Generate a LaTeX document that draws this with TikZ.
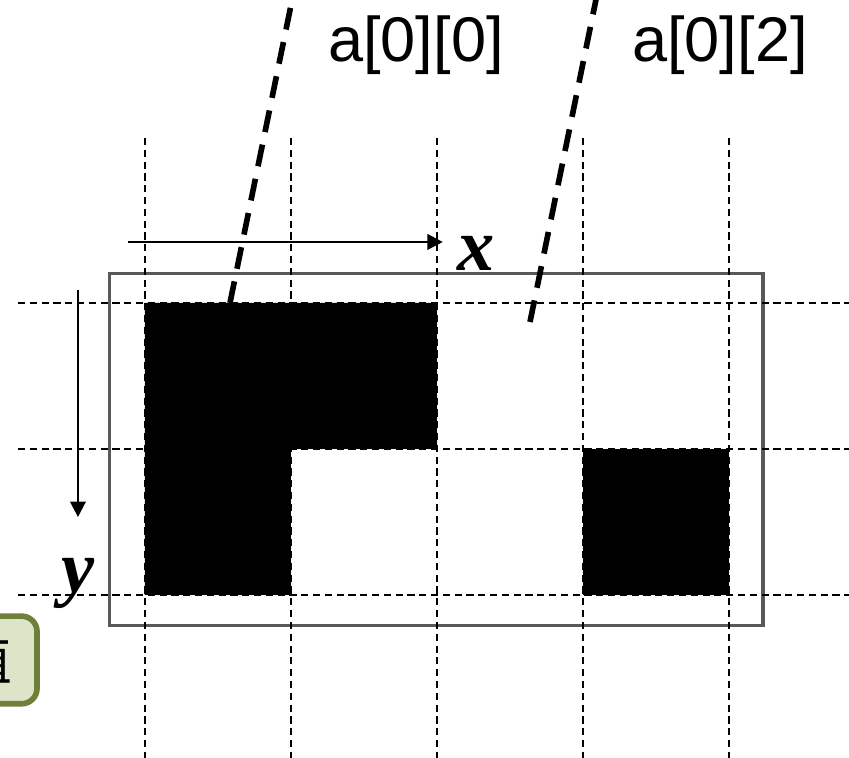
\documentclass[tikz,border=0pt]{standalone}
\usepackage{fontspec}
\setmainfont{Liberation Sans}
\newfontfamily\axisfont{Liberation Serif}
\newfontfamily\cjk{Noto Sans CJK SC}
\usetikzlibrary{arrows.meta}
\definecolor{boxedge}{RGB}{112,128,58}
\definecolor{boxfill}{RGB}{221,229,200}

\begin{document}
\begin{tikzpicture}[x=1cm, y=-1cm,
    gridline/.style={line width=0.45pt, dash pattern=on 1.4pt off 0.9pt},
    pointer/.style={line width=1.1pt, dash pattern=on 4.3pt off 2.5pt},
    axis/.style={line width=0.45pt, -{Triangle[length=3pt, width=3pt]}},
    axislabel/.style={font=\axisfont\bfseries\itshape\fontsize{14.5}{16}\selectfont},
    celllabel/.style={font=\fontsize{12.3}{14}\selectfont}]
  \useasboundingbox (-0.993,-2.075) rectangle (4.822,3.116);
  % \draw[help lines, gray!50, very thin] (0,0) grid (5,3);

  % filled cells
  \fill[black] (0,0) -- (2,0) -- (2,1) -- (1,1) -- (1,2) -- (0,2) -- cycle;
  \fill[black] (3,1) rectangle (4,2);

  % image frame
  \draw[black!65, line width=0.6pt] (-0.24,-0.205) rectangle (4.233,2.212);

  % grid
  \foreach \i in {0,...,4}
    \draw[gridline] (\i,-1.13) -- (\i,3.2);
  \foreach \j in {0,1,2}
    \draw[gridline] (-0.87,\j) -- (4.9,\j);

  % axes
  \coordinate (xstart) at (-0.116,-0.418);
  \coordinate (xend) at (2.04,-0.418);
  \draw[axis] (xstart) -- (xend);
  \node[axislabel] (xlab) at (2.27,-0.34) {x};

  \coordinate (ystart) at (-0.459,-0.089);
  \coordinate (yend) at (-0.459,1.466);
  \draw[axis] (ystart) -- (yend);
  \node[axislabel] (ylab) at (-0.46,1.92) {y};

  % element labels
  \node[celllabel] (lbl00) at (1.856,-1.767) {a[0][0]};
  \node[celllabel] (lbl02) at (3.938,-1.767) {a[0][2]};
  \coordinate (p00) at (0.582,0);
  \coordinate (q00) at (1.033,-2.2);
  \coordinate (p02) at (2.637,0.13);
  \coordinate (q02) at (3.114,-2.2);
  \draw[pointer] (p00) -- (q00);
  \draw[pointer] (p02) -- (q02);

  % note box
  \node[draw=boxedge, fill=boxfill, line width=1.1pt, rounded corners=3pt,
        anchor=east, minimum height=0.6cm, inner xsep=0.17cm,
        font=\cjk\fontsize{10.5}{12}\selectfont] (note) at (-0.72,2.445) {值};
\end{tikzpicture}
\end{document}
